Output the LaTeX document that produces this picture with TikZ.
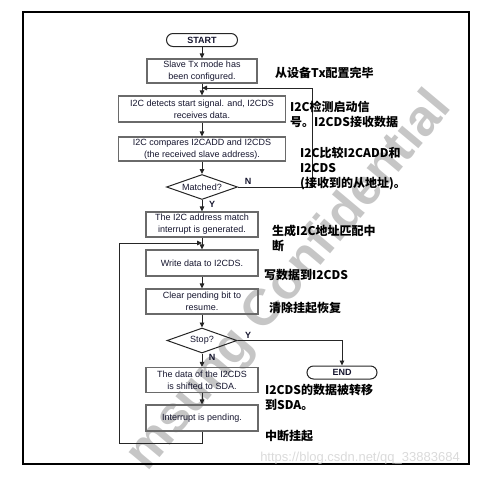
\documentclass[tikz,border=0pt]{standalone}
\usepackage{fontspec}
\setmainfont{Liberation Sans}
\newfontfamily\cjk{Noto Sans CJK SC}
\usetikzlibrary{shapes.geometric,arrows.meta}
\definecolor{boxgray}{HTML}{6A6A6A}
\definecolor{textc}{HTML}{15152E}
\definecolor{wmgray}{HTML}{C6C6C6}
\definecolor{csdngray}{HTML}{DADADA}
\begin{document}
\begin{tikzpicture}[x=1pt,y=-1pt,
  box/.style={draw=boxgray, line width=1.1pt, minimum width=112pt, minimum height=25pt, inner sep=1pt, align=center, font=\fontsize{9}{12}\selectfont, text=textc},
  widebox/.style={box, minimum width=167pt},
  term/.style={draw=black!85, line width=1pt, rounded corners=6.5pt, minimum width=71pt, minimum height=13pt, inner sep=0pt, font=\fontsize{9}{10}\selectfont\bfseries, text=textc},
  dec/.style={draw=black!85, line width=1pt, diamond, aspect=2.84, minimum width=71pt, minimum height=25pt, inner sep=0pt, font=\fontsize{9}{10}\selectfont, text=textc},
  note/.style={anchor=west, inner sep=0pt, align=left, font=\cjk\bfseries\fontsize{12}{15}\selectfont},
  lab/.style={inner sep=0pt, font=\fontsize{9}{10}\selectfont\bfseries, text=textc},
  conn/.style={draw=black!85, line width=0.9pt},
  arr/.style={conn, -{Triangle[length=5pt,width=4.5pt]}}]
\useasboundingbox (0,0) rectangle (497,479);
\begin{scope}
\clip (0,0) rectangle (497,479);
% watermark
\node[rotate=50, text=wmgray, font=\fontsize{51}{51}\selectfont\bfseries, inner sep=0pt] (wm) at (290,282) {msung Confidential};
\end{scope}
% outer frame
\draw[line width=1.1pt] (23,12) rectangle (469,464);
\node[text=csdngray, font=\fontsize{13}{13}\selectfont, inner sep=0pt] (csdn) at (360,458) {https://blog.csdn.net/qq\_33883684};

% flow nodes
\node[term] (start) at (202,40) {START};
\node[box, minimum width=110pt, minimum height=24pt] (slave) at (202,71) {Slave Tx mode has\\been configured.};
\node[widebox, minimum height=26pt] (detect) at (202,109) {I2C detects start signal. and, I2CDS\\receives data.};
\node[widebox, minimum height=24pt] (compare) at (202,149) {I2C compares I2CADD and I2CDS\\(the received slave address).};
\node[dec] (matched) at (202,187) {Matched?};
\node[box] (addr) at (202,224.5) {The I2C address match\\interrupt is generated.};
\node[box, minimum height=26pt] (write) at (202,263) {Write data to I2CDS.};
\node[box] (clear) at (202,301.5) {Clear pending bit to\\resume.};
\node[dec, minimum width=70pt] (stop) at (202,340.5) {Stop?};
\node[box] (data) at (202,380) {The data of the I2CDS\\is shifted to SDA.};
\node[box, minimum height=26pt] (intr) at (202,418) {Interrupt is pending.};
\node[term, minimum width=70pt] (end) at (342,372.5) {END};

% junction coordinates
\coordinate (j1) at (202,88);
\coordinate (nr) at (312,187);
\coordinate (nt) at (312,88);
\coordinate (j2) at (202,243);
\coordinate (lb) at (202,443);
\coordinate (ll) at (119,443);
\coordinate (lt) at (119,243);
\coordinate (yr) at (342,340.5);

% connectors
\draw[arr] (start) -- (slave);
\draw[arr] (slave) -- (detect);
\draw[arr] (detect) -- (compare);
\draw[arr] (compare) -- (matched);
\draw[arr] (matched) -- (addr);
\draw[arr] (matched.east) -- (nr) -- (nt) -- (j1);
\draw[arr] (addr) -- (write);
\draw[arr] (write) -- (clear);
\draw[arr] (clear) -- (stop);
\draw[arr] (stop) -- (data);
\draw[arr] (stop.east) -- (yr) -- (end.north);
\draw[arr] (data) -- (intr);
\draw[arr] (intr.south) -- (lb) -- (ll) -- (lt) -- (j2);

% branch labels
\node[lab] (n1) at (248,181) {N};
\node[lab] (y1) at (212,204) {Y};
\node[lab] (y2) at (248,335) {Y};
\node[lab] (n2) at (212,357) {N};

% notes
\node[note] (c1) at (275,73) {从设备Tx配置完毕};
\node[note] (c2) at (290,114.5) {I2C检测启动信\\号。I2CDS接收数据};
\node[note] (c3) at (300,169) {I2C比较I2CADD和\\I2CDS\\(接收到的从地址)。};
\node[note] (c4) at (272,238.5) {生成I2C地址匹配中\\断};
\node[note] (c5) at (264,275) {写数据到I2CDS};
\node[note] (c6) at (269,308) {清除挂起恢复};
\node[note] (c7) at (265,397) {I2CDS的数据被转移\\到SDA。};
\node[note] (c8) at (265,436) {中断挂起};
\end{tikzpicture}
\end{document}
